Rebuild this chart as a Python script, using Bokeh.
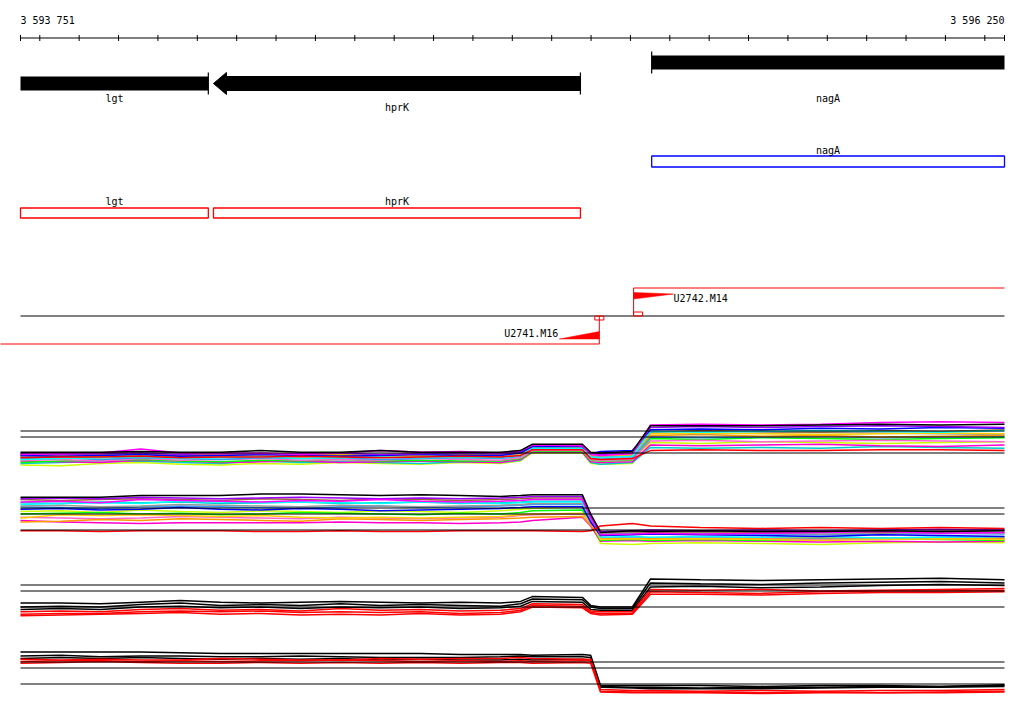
from bokeh.plotting import figure
from bokeh.models import Range1d
from bokeh.embed import file_html
from bokeh.resources import INLINE
from bokeh.core.properties import value

# ---------------- data ----------------
view_start = 3593751
view_end = 3596250
tick_positions = list(range(3593800, 3596201, 100))

gene_names = ["lgt", "hprK", "nagA"]
gene_left = [3593420, 3594241, 3595354]
gene_right = [3594228, 3595173, 3596900]
gene_strand = ["-", "-", "+"]

track2_names = ["nagA"]
track2_left = [3595354]
track2_right = [3596250]

track3_names = ["lgt", "hprK"]
track3_left = [3593751, 3594241]
track3_right = [3594228, 3595173]

tu_names = ["U2742.M14", "U2741.M16"]
tu_tss = [3595308, 3595221]
tu_strand = ["+", "-"]

probe_pos = [3593751, 3593853, 3593954, 3594056, 3594157, 3594259, 3594361,
             3594462, 3594564, 3594665, 3594767, 3594868, 3594970, 3595021,
             3595051, 3595178, 3595199, 3595224, 3595305, 3595351, 3595478,
             3595630, 3595783, 3595935, 3596087, 3596250]

ref_levels = [2.75, 2.0, 0.0]

colors16 = ["#ccff00", "#00cccc", "#ff00cc", "#00ff00", "#ff66cc", "#3399ff",
            "#ff9900", "#999999", "#ffcc00", "#996633", "#00ffff", "#0000ff",
            "#9900ff", "#ff00ff", "#ff0000", "#000000"]

panel1 = [
    [-1.5,-1.6,-1.3,-1.2,-1.4,-1.5,-1.3,-1.4,-1.2,-1.3,-1.4,-1.2,-1.3,-1.0,0.0,0.0,-1.3,-1.4,-1.3,1.3,1.2,1.4,1.3,1.2,1.3,1.4],
    [-1.3,-1.2,-1.1,-1.0,-1.2,-1.3,-1.0,-1.2,-1.1,-1.2,-1.3,-1.1,-1.2,-0.9,0.2,0.1,-1.2,-1.4,-1.2,0.7,0.6,0.7,0.6,0.8,0.7,0.6],
    [-1.0,-1.1,-1.2,-0.9,-1.0,-1.2,-1.1,-1.0,-1.2,-1.1,-1.0,-1.1,-1.2,-0.8,0.1,0.1,-1.1,-1.2,-1.1,1.0,0.9,1.0,1.1,0.9,0.8,1.0],
    [-1.2,-1.0,-0.9,-0.8,-1.0,-1.1,-0.9,-1.0,-0.8,-1.0,-0.9,-1.0,-1.0,-0.7,0.2,0.2,-0.9,-1.0,-0.9,1.8,1.7,1.9,1.8,1.7,1.8,1.9],
    [-0.9,-0.8,-1.0,-0.7,-0.9,-0.8,-0.7,-0.9,-0.8,-0.9,-0.7,-0.8,-0.9,-0.6,0.3,0.3,-0.8,-0.9,-0.8,1.5,1.6,1.4,1.5,1.6,1.5,1.4],
    [-0.7,-0.6,-0.8,-0.6,-0.7,-0.8,-0.6,-0.7,-0.6,-0.8,-0.7,-0.6,-0.7,-0.4,0.5,0.5,-0.6,-0.7,-0.6,2.0,1.9,2.0,2.1,1.9,2.0,2.1],
    [-0.4,-0.5,-0.6,-0.4,-0.5,-0.3,-0.4,-0.5,-0.4,-0.3,-0.4,-0.5,-0.4,-0.2,0.7,0.7,-0.3,-0.4,-0.3,2.2,2.3,2.1,2.2,2.0,2.1,2.2],
    [-0.5,-0.3,-0.4,-0.3,-0.2,-0.4,-0.3,-0.2,-0.3,-0.4,-0.3,-0.2,-0.4,-0.1,0.7,0.6,-0.4,-0.5,-0.4,2.5,2.4,2.5,2.6,2.5,2.4,2.3],
    [-0.2,-0.3,-0.4,-0.3,-0.2,-0.3,-0.4,-0.3,-0.2,-0.4,-0.3,-0.4,-0.3,-0.1,0.8,0.8,-0.2,-0.3,-0.2,2.4,2.5,2.4,2.3,2.4,2.5,2.4],
    [-0.3,-0.2,-0.2,-0.1,-0.3,-0.2,-0.1,-0.2,-0.3,-0.2,-0.1,-0.2,-0.2,0.1,0.9,0.9,0.0,-0.1,0.0,2.6,2.8,2.7,2.6,2.8,2.7,2.9],
    [-0.8,-0.7,-0.6,-0.5,-0.7,-0.6,-0.5,-0.7,-0.6,-0.5,-0.6,-0.5,-0.6,-0.3,0.6,0.6,-0.5,-0.6,-0.4,2.7,2.6,2.7,2.8,2.7,2.6,2.8],
    [-0.3,-0.4,-0.3,-0.2,-0.4,-0.3,-0.2,-0.3,-0.4,-0.3,-0.2,-0.3,-0.3,0.0,0.8,0.8,-0.1,0.2,0.3,2.9,3.0,2.9,3.1,3.0,3.2,3.1],
    [-0.1,-0.2,-0.1,0.0,-0.2,0.0,-0.1,-0.1,0.0,-0.2,-0.1,0.0,-0.1,0.2,1.0,1.0,-0.1,-0.2,0.0,3.2,3.3,3.2,3.3,3.4,3.3,3.2],
    [-0.2,-0.1,0.0,0.5,0.0,-0.1,0.0,-0.2,0.0,0.3,0.1,0.2,0.0,0.3,1.0,0.9,-0.2,-0.3,-0.1,3.5,3.6,3.5,3.6,3.8,3.9,3.8],
    [-0.6,-0.5,-0.5,-0.4,-0.6,-0.5,-0.5,-0.4,-0.5,-0.6,-0.5,-0.4,-0.5,-0.3,0.4,0.4,-0.7,-0.8,-0.7,0.3,0.4,0.3,0.3,0.4,0.4,0.3],
    [0.1,0.1,0.1,0.2,0.1,0.1,0.3,0.1,0.1,0.3,0.1,0.1,0.1,0.3,1.1,1.1,0.1,0.0,0.2,3.4,3.4,3.4,3.5,3.6,3.5,3.6],
]

panel2 = [
    [2.3,2.4,2.2,2.5,2.3,2.2,2.4,2.3,2.2,2.4,2.3,2.2,2.4,2.6,2.7,2.9,1.2,-1.7,-1.8,-1.7,-1.6,-1.7,-1.8,-1.6,-1.5,-1.6],
    [3.4,3.3,3.5,3.4,3.5,3.3,3.4,3.5,3.3,3.4,3.5,3.3,3.4,3.5,3.6,3.6,1.6,-1.0,-0.9,-1.0,-0.9,-1.0,-1.1,-1.0,-0.9,-1.0],
    [1.2,1.0,0.9,0.8,0.9,0.9,0.9,0.9,1.0,0.9,0.9,0.8,0.9,1.0,1.2,1.6,0.5,-1.4,-1.3,-1.4,-1.3,-1.4,-1.5,-1.4,-1.5,-1.4],
    [2.0,2.1,2.2,2.0,2.1,1.9,2.0,2.2,2.1,2.0,1.9,2.1,2.0,2.2,2.4,2.5,0.8,-1.3,-1.2,-1.3,-1.2,-1.3,-1.2,-1.1,-1.2,-1.3],
    [1.6,1.5,1.4,1.5,1.7,1.6,1.5,1.4,1.6,1.5,1.4,1.5,1.6,1.8,1.9,2.0,0.9,-1.1,-1.0,-1.1,-1.0,-1.1,-1.2,-1.1,-1.0,-1.1],
    [2.9,2.8,2.7,2.9,3.0,2.9,2.8,2.7,2.9,3.0,2.8,2.9,3.0,3.1,3.2,3.2,1.4,-0.5,-0.4,-0.5,-0.4,-0.5,-0.6,-0.5,-0.4,-0.5],
    [1.0,1.1,1.3,1.2,1.4,1.3,1.2,1.1,1.4,1.3,1.2,1.3,1.4,1.5,1.6,1.7,0.6,-1.0,-1.1,-1.0,-1.1,-1.0,-0.9,-1.0,-1.1,-1.0],
    [3.0,3.1,2.9,3.0,3.2,3.1,3.0,2.9,3.1,3.0,2.9,3.0,3.1,3.2,3.3,3.3,1.2,-0.4,-0.3,-0.4,-0.3,-0.4,-0.5,-0.4,-0.3,-0.4],
    [1.5,1.9,1.8,1.9,1.8,1.7,1.8,1.6,1.5,1.6,1.5,1.6,1.7,1.9,2.0,2.1,1.0,-1.2,-1.1,-1.2,-1.1,-1.2,-1.3,-1.2,-1.1,-1.2],
    [3.8,3.7,3.8,3.9,3.8,3.7,3.9,3.8,3.7,3.9,3.8,3.7,3.8,3.9,4.0,4.0,1.8,-0.3,-0.2,-0.3,-0.2,-0.3,-0.2,-0.3,-0.2,-0.3],
    [3.2,3.3,3.4,3.3,3.6,3.5,3.4,3.5,3.4,3.3,3.5,3.4,3.3,3.4,3.5,3.5,1.3,-0.9,-0.8,-0.9,-0.8,-0.9,-0.8,-1.0,-0.9,-0.8],
    [2.6,2.7,2.5,2.6,2.8,2.6,2.5,2.7,2.6,2.4,2.5,2.6,2.7,2.8,2.9,2.9,1.0,-0.7,-0.6,-0.5,-0.6,-0.7,-0.8,-0.6,-0.7,-0.8],
    [3.9,4.0,3.9,4.1,4.0,3.9,4.0,4.1,4.0,3.9,4.0,3.9,4.0,4.1,4.2,4.2,1.9,-0.2,-0.1,0.0,-0.1,0.0,-0.1,0.0,0.1,0.0],
    [3.5,3.6,3.4,3.8,3.7,3.6,3.5,3.7,3.6,3.8,3.6,3.5,3.6,3.7,3.8,3.8,1.5,-0.6,-0.5,-0.4,-0.5,-0.4,-0.3,-0.2,-0.4,-0.3],
    [-0.1,-0.1,-0.2,-0.1,-0.1,-0.1,-0.2,-0.2,-0.1,-0.2,-0.2,-0.1,-0.1,-0.1,-0.1,-0.2,-0.1,0.5,0.8,0.5,0.3,0.2,0.3,0.2,0.3,0.2],
    [4.1,4.1,4.1,4.3,4.3,4.3,4.5,4.5,4.4,4.3,4.4,4.3,4.2,4.3,4.4,4.4,2.0,-0.3,-0.1,-0.2,-0.1,-0.2,-0.2,-0.1,-0.2,-0.1],
]

colors6 = ["#000000", "#000000", "#000000", "#ff0000", "#ff0000", "#ff0000"]

panel3 = [
    [0.5,0.5,0.4,0.6,0.8,0.6,0.5,0.6,0.7,0.6,0.5,0.6,0.5,0.7,1.3,1.2,0.2,0.0,0.0,3.5,3.4,3.3,3.4,3.5,3.6,3.4],
    [0.0,0.1,0.0,0.3,0.5,0.2,0.3,0.2,0.4,0.2,0.3,0.2,0.1,0.4,1.0,0.9,0.0,-0.2,-0.2,3.0,2.9,2.8,3.0,3.1,3.2,3.0],
    [-0.3,-0.2,-0.3,0.0,0.1,-0.1,0.0,-0.2,0.0,-0.1,0.0,-0.2,-0.1,0.1,0.7,0.6,-0.3,-0.4,-0.4,2.5,2.6,2.4,2.5,2.7,2.8,2.7],
    [-0.6,-0.5,-0.6,-0.3,-0.2,-0.4,-0.3,-0.5,-0.2,-0.4,-0.3,-0.5,-0.4,-0.2,0.4,0.3,-0.5,-0.6,-0.6,2.2,2.1,2.2,2.0,2.1,2.2,2.3],
    [-0.9,-0.8,-0.8,-0.6,-0.5,-0.6,-0.5,-0.7,-0.6,-0.7,-0.6,-0.8,-0.7,-0.4,0.2,0.1,-0.7,-0.8,-0.8,1.9,1.8,1.7,1.9,2.0,2.0,2.1],
    [-1.1,-1.0,-0.9,-0.8,-0.7,-0.9,-0.8,-1.0,-0.9,-1.0,-0.8,-1.0,-0.9,-0.6,0.0,-0.1,-0.8,-1.0,-0.9,1.6,1.6,1.5,1.7,1.8,1.8,1.9],
]

panel4 = [
    [4.0,4.0,4.0,4.0,3.9,3.8,3.8,3.8,3.8,3.8,3.8,3.7,3.7,3.7,3.6,3.7,3.6,-0.2,-0.2,-0.2,-0.2,-0.3,-0.2,-0.2,-0.3,-0.1],
    [3.5,3.6,3.4,3.5,3.5,3.4,3.4,3.5,3.4,3.3,3.3,3.3,3.4,3.5,3.4,3.4,3.3,-0.4,-0.5,-0.6,-0.6,-0.6,-0.5,-0.4,-0.4,-0.3],
    [3.2,3.3,3.2,3.3,3.2,3.1,3.2,3.1,3.2,3.0,3.1,3.0,3.0,3.1,3.0,3.1,3.0,-0.3,-0.4,-0.4,-0.5,-0.4,-0.4,-0.3,-0.3,-0.2],
    [3.1,3.0,3.1,3.0,3.0,3.2,3.1,3.0,3.0,3.2,3.1,3.2,3.2,3.3,3.2,3.1,3.1,-0.7,-0.8,-0.8,-0.9,-0.8,-0.9,-0.8,-0.8,-0.7],
    [2.8,2.9,2.9,2.8,2.9,2.8,2.9,2.9,3.0,2.9,2.8,2.9,2.8,2.9,2.8,2.9,2.9,-0.9,-1.0,-1.0,-1.0,-1.1,-1.0,-1.1,-1.0,-0.9],
    [2.6,2.7,2.8,2.7,2.6,2.6,2.7,2.6,2.7,2.6,2.7,2.6,2.7,2.7,2.6,2.7,2.6,-1.0,-1.1,-1.1,-1.1,-1.2,-1.1,-1.1,-1.1,-1.0],
]

# ---------------- layout constants (pixel rows) ----------------
W, H = 1016, 706
PX_PER_BP = 984.0 / (view_end - view_start)
x0 = view_start - 20 / PX_PER_BP
x1 = x0 + W / PX_PER_BP
FONT = value("DejaVu Sans Mono")
FS = "10px"

p = figure(width=W, height=H, x_range=Range1d(x0, x1), y_range=Range1d(H, 0),
           toolbar_location=None, output_backend="svg", min_border=0,
           x_axis_location=None, y_axis_location=None)
p.xgrid.visible = False
p.ygrid.visible = False
p.outline_line_color = None
p.background_fill_color = "white"
p.border_fill_color = "white"

# ---- coordinate ruler ----
AX_Y = 37.5
p.segment(x0=[view_start], x1=[view_end], y0=[AX_Y], y1=[AX_Y], line_color="black", line_width=1)
all_ticks = [view_start] + tick_positions + [view_end]
p.segment(x0=all_ticks, x1=all_ticks, y0=[AX_Y - 3] * len(all_ticks), y1=[AX_Y + 3] * len(all_ticks),
          line_color="black", line_width=1)
def fmt(n):
    return "{:,}".format(n).replace(",", " ")
p.text(x=[view_start], y=[19.5], text=[fmt(view_start)], text_font=FONT, text_font_size=FS,
       text_align="left", text_baseline="middle", text_color="black")
p.text(x=[view_end], y=[19.5], text=[fmt(view_end)], text_font=FONT, text_font_size=FS,
       text_align="right", text_baseline="middle", text_color="black")

# ---- gene track ----
HEAD_BP = 13 / PX_PER_BP
label_y = {"lgt": 97.5, "hprK": 106.5, "nagA": 97.5}
for name, gl, gr, st in zip(gene_names, gene_left, gene_right, gene_strand):
    cy = 83 if st == "-" else 62
    l = max(gl, view_start)
    r = min(gr, view_end)
    if st == "-" and gl >= view_start:
        xs = [l, l + HEAD_BP, l + HEAD_BP, r, r, l + HEAD_BP, l + HEAD_BP]
        ys = [cy, cy - 11, cy - 7, cy - 7, cy + 7, cy + 7, cy + 11]
        p.patch(x=xs, y=ys, fill_color="black", line_color="black", line_width=1)
    elif st == "+" and gr <= view_end:
        xs = [r, r - HEAD_BP, r - HEAD_BP, l, l, r - HEAD_BP, r - HEAD_BP]
        ys = [cy, cy - 11, cy - 7, cy - 7, cy + 7, cy + 7, cy + 11]
        p.patch(x=xs, y=ys, fill_color="black", line_color="black", line_width=1)
    else:
        p.quad(left=[l], right=[r], top=[cy - 7], bottom=[cy + 7], fill_color="black", line_color=None)
    tx = gr if st == "-" else gl
    if view_start <= tx <= view_end:
        p.segment(x0=[tx], x1=[tx], y0=[cy - 11], y1=[cy + 11], line_color="black", line_width=1.2)
    p.text(x=[(l + r) / 2], y=[label_y[name]], text=[name], text_font=FONT, text_font_size=FS,
           text_align="center", text_baseline="middle", text_color="black")

# ---- track 2 (blue) ----
p.quad(left=track2_left, right=track2_right, top=[155.5] * len(track2_left), bottom=[166.5] * len(track2_left),
       fill_color=None, line_color="#0000ff", line_width=1.3)
p.text(x=[(a + b) / 2 for a, b in zip(track2_left, track2_right)], y=[149.5] * len(track2_left),
       text=track2_names, text_font=FONT, text_font_size=FS, text_align="center", text_baseline="middle")

# ---- track 3 (red) ----
p.quad(left=track3_left, right=track3_right, top=[207.5] * len(track3_left), bottom=[217.5] * len(track3_left),
       fill_color=None, line_color="#ff0000", line_width=1.3)
p.text(x=[(a + b) / 2 for a, b in zip(track3_left, track3_right)], y=[200.5] * len(track3_left),
       text=track3_names, text_font=FONT, text_font_size=FS, text_align="center", text_baseline="middle")

# ---- transcription units ----
MID_Y = 315.5
p.segment(x0=[view_start], x1=[view_end], y0=[MID_Y], y1=[MID_Y], line_color="black", line_width=1)
WEDGE = 40 / PX_PER_BP
BOX = 9 / PX_PER_BP
for name, tss, st in zip(tu_names, tu_tss, tu_strand):
    if st == "+":
        ly = 287.5
        p.segment(x0=[tss], x1=[view_end], y0=[ly], y1=[ly], line_color="#ff0000", line_width=1)
        p.segment(x0=[tss], x1=[tss], y0=[ly], y1=[MID_Y], line_color="#ff0000", line_width=1)
        p.patch(x=[tss, tss + WEDGE, tss], y=[292, 293.5, 298.5], fill_color="#ff0000", line_color="#ff0000", line_width=0.5)
        p.quad(left=[tss], right=[tss + BOX], top=[311.5], bottom=[MID_Y], fill_color=None, line_color="#ff0000", line_width=1)
        p.text(x=[tss + WEDGE], y=[297.5], text=[name], text_font=FONT, text_font_size=FS,
               text_align="left", text_baseline="middle", x_offset=0)
    else:
        ly = 343.5
        p.segment(x0=[x0 - 100], x1=[tss], y0=[ly], y1=[ly], line_color="#ff0000", line_width=1)
        p.segment(x0=[tss], x1=[tss], y0=[MID_Y], y1=[ly], line_color="#ff0000", line_width=1)
        p.patch(x=[tss, tss, tss - WEDGE], y=[331, 338.5, 338.5], fill_color="#ff0000", line_color="#ff0000", line_width=0.5)
        p.quad(left=[tss - BOX / 2], right=[tss + BOX / 2], top=[MID_Y], bottom=[319.5], fill_color=None, line_color="#ff0000", line_width=1)
        p.text(x=[tss - WEDGE], y=[332.5], text=[name], text_font=FONT, text_font_size=FS,
               text_align="right", text_baseline="middle", x_offset=-1)

# ---- expression panels ----
UNIT = 8.0
zeros = [452.5, 529.5, 606.5, 683.5]
panels = [(panel1, colors16), (panel2, colors16), (panel3, colors6), (panel4, colors6)]
for k, (Z, (series, cols)) in enumerate(zip(zeros, panels)):
    rn = "panel%d" % k
    p.extra_y_ranges[rn] = Range1d(start=(Z - H) / UNIT, end=Z / UNIT)
    for vals, c in zip(series, cols):
        p.line(x=probe_pos, y=vals, line_color=c, line_width=1.5, y_range_name=rn)
    p.segment(x0=[view_start] * 3, x1=[view_end] * 3, y0=ref_levels, y1=ref_levels,
              line_color="black", line_width=1, y_range_name=rn)

open("out.html", "w").write(file_html(p, INLINE))
